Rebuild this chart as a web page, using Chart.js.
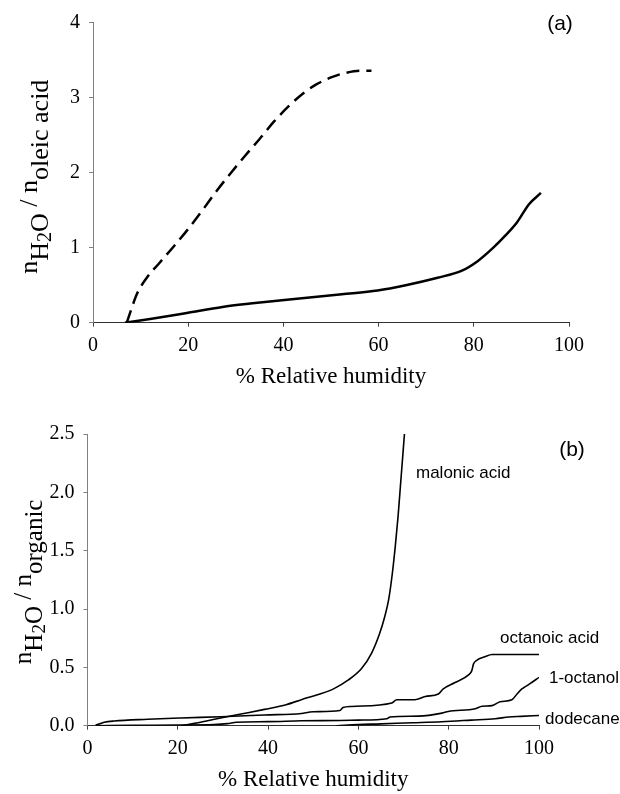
<!DOCTYPE html>
<html>
<head>
<meta charset="utf-8">
<script src="https://cdn.jsdelivr.net/npm/chart.js@4.4.1/dist/chart.umd.min.js"></script>
<style>
  html, body { margin: 0; padding: 0; background: #ffffff; }
  body { width: 620px; height: 794px; position: relative; overflow: hidden; }
  #wrapA { position: absolute; left: 0; top: 0; width: 620px; height: 400px; }
  #wrapB { position: absolute; left: 0; top: 400px; width: 620px; height: 394px; }
</style>
</head>
<body>
<div id="wrapA"><canvas id="chartA" width="620" height="400"></canvas></div>
<div id="wrapB"><canvas id="chartB" width="620" height="394"></canvas></div>
<script>
// ---------- Data: panel (a) ----------
const aTicksX = [0, 20, 40, 60, 80, 100];
const aTicksY = [0, 1, 2, 3, 4];
const dashedRH  = [7.1, 8, 9.2, 11.3, 14, 17, 20, 23, 26, 29, 32, 35, 38, 41, 44, 47, 50, 53, 56, 58.5];
const dashedVal = [0, 0.17, 0.38, 0.6, 0.8, 1.02, 1.25, 1.5, 1.76, 2.0, 2.23, 2.45, 2.68, 2.88, 3.05, 3.18, 3.27, 3.33, 3.36, 3.36];
const solidRH   = [6.7, 12, 19.7, 27.2, 33, 39.7, 46, 52.3, 59.8, 65.7, 72.4, 77.4, 80.8, 84.1, 86.6, 89.1, 91.6, 94.1];
const solidVal  = [0, 0.05, 0.13, 0.21, 0.255, 0.30, 0.34, 0.38, 0.43, 0.5, 0.6, 0.69, 0.82, 1.0, 1.16, 1.34, 1.58, 1.73];

// ---------- Data: panel (b) ----------
const bTicksX = [0, 20, 40, 60, 80, 100];
const bTicksY = [0, 0.5, 1.0, 1.5, 2.0, 2.5];
const malonicRH  = [20.7, 23.7, 28.1, 34, 39.2, 44, 47.5, 51.8, 54.7, 57.7, 60.7, 62.9, 64.7, 65.8, 66.7, 67.5, 68.2, 68.8, 69.3, 69.8, 70.2];
const malonicVal = [0, 0.02, 0.055, 0.10, 0.14, 0.18, 0.225, 0.275, 0.32, 0.39, 0.49, 0.62, 0.79, 0.93, 1.08, 1.3, 1.55, 1.8, 2.05, 2.3, 2.5];
const octanoicRH  = [1.8, 3, 3.7, 5.9, 13.3, 20.7, 29.6, 39.2, 47.4, 49, 50, 55.9, 56.6, 58.5, 67.4, 68.5, 72.5, 74.8, 77.7, 78.8, 81.4, 84.4, 85.1, 85.5, 86.2, 88, 89.6, 100];
const octanoicVal = [0.005, 0.02, 0.029, 0.04, 0.055, 0.066, 0.077, 0.092, 0.105, 0.115, 0.12, 0.13, 0.155, 0.165, 0.195, 0.222, 0.222, 0.25, 0.272, 0.315, 0.37, 0.435, 0.47, 0.53, 0.56, 0.59, 0.61, 0.61];
const octanolRH  = [2, 10, 20, 28, 31, 33, 40, 47.4, 56, 60, 66.3, 67, 73.3, 78.5, 79.9, 85.9, 87.4, 89.6, 91.4, 94, 95.1, 96.2, 96.6, 98, 100];
const octanolVal = [0, 0.003, 0.006, 0.01, 0.018, 0.03, 0.035, 0.042, 0.045, 0.048, 0.06, 0.075, 0.082, 0.108, 0.122, 0.146, 0.166, 0.172, 0.205, 0.222, 0.27, 0.315, 0.325, 0.36, 0.414];
const dodecaneRH  = [55, 57.7, 65, 72, 78.5, 85, 90.3, 93.3, 96, 100];
const dodecaneVal = [0, 0.006, 0.016, 0.025, 0.034, 0.048, 0.06, 0.074, 0.08, 0.088];

const curveLabels = ['malonic acid', 'octanoic acid', '1-octanol', 'dodecane'];

// ---------- Helpers ----------
const SERIF = '"Liberation Serif", "Times New Roman", serif';
const SANS = '"Liberation Sans", Arial, sans-serif';
function pts(xs, ys) { return xs.map((x, i) => ({ x: x, y: ys[i] })); }

function makeScales(ticksX, ticksY, yDecimals, yAxisW, xAxisH, yMax) {
  return {
    x: {
      type: 'linear', min: 0, max: 100,
      afterBuildTicks: (s) => { s.ticks = ticksX.map(v => ({ value: v })); },
      afterFit: (s) => { s.height = xAxisH; },
      grid: { drawOnChartArea: false, drawTicks: true, tickLength: 4, color: '#404040' },
      border: { display: true, color: '#303030', width: 1 },
      ticks: { color: '#000', padding: 7, font: { family: SERIF, size: 20 }, maxRotation: 0,
               callback: (v) => String(v) }
    },
    y: {
      type: 'linear', min: 0, max: yMax,
      afterBuildTicks: (s) => { s.ticks = ticksY.map(v => ({ value: v })); },
      afterFit: (s) => { s.width = yAxisW; },
      grid: { drawOnChartArea: false, drawTicks: true, tickLength: 4, color: '#808080' },
      border: { display: true, color: '#808080', width: 1 },
      ticks: { color: '#000', padding: 9, font: { family: SERIF, size: 20 },
               callback: (v) => yDecimals ? Number(v).toFixed(yDecimals) : String(v) }
    }
  };
}

function drawYTitle(ctx, baseX, centerY, parts) {
  ctx.save();
  let total = 0;
  parts.forEach(p => { ctx.font = p.font; p.w = ctx.measureText(p.text).width; total += p.w; });
  ctx.translate(baseX, centerY);
  ctx.rotate(-Math.PI / 2);
  ctx.fillStyle = '#000';
  ctx.textBaseline = 'alphabetic';
  ctx.textAlign = 'left';
  let x = -total / 2;
  parts.forEach(p => { ctx.font = p.font; ctx.fillText(p.text, x, p.dy); x += p.w; });
  ctx.restore();
}

function textPlugin(drawFn) {
  return { id: 'txt' + Math.random().toString(36).slice(2), afterDraw: (chart) => drawFn(chart, chart.ctx) };
}

Chart.defaults.animation = false;
Chart.defaults.responsive = false;
Chart.defaults.devicePixelRatio = 1;

// ---------- Chart (a) ----------
new Chart(document.getElementById('chartA'), {
  type: 'scatter',
  data: {
    datasets: [
      { data: pts(dashedRH, dashedVal), showLine: true, borderColor: '#000', borderWidth: 2.5,
        borderDash: [13, 7], pointRadius: 0, cubicInterpolationMode: 'monotone', fill: false },
      { data: pts(solidRH, solidVal), showLine: true, borderColor: '#000', borderWidth: 2.5,
        pointRadius: 0, cubicInterpolationMode: 'monotone', fill: false }
    ]
  },
  options: {
    layout: { padding: { left: 0, right: 51, top: 22.7, bottom: 0 } },
    plugins: { legend: { display: false }, tooltip: { enabled: false } },
    scales: makeScales(aTicksX, aTicksY, 0, 93, 77.3, 4)
  },
  plugins: [textPlugin((chart, ctx) => {
    const a = chart.chartArea;
    ctx.save();
    ctx.fillStyle = '#000';
    ctx.font = '23px ' + SERIF;
    ctx.textAlign = 'center'; ctx.textBaseline = 'middle';
    ctx.fillText('% Relative humidity', (a.left + a.right) / 2, 377);
    ctx.font = '21px ' + SANS;
    ctx.fillText('(a)', 560, 24);
    ctx.restore();
    const big = '26px ' + SERIF, sub2 = '20px ' + SERIF;
    drawYTitle(ctx, 37, (a.top + a.bottom) / 2 + 4, [
      { text: 'n', font: big, dy: 0 },
      { text: 'H', font: big, dy: 11 },
      { text: '2', font: sub2, dy: 14 },
      { text: 'O', font: big, dy: 11 },
      { text: ' / ', font: big, dy: 0 },
      { text: 'n', font: big, dy: 0 },
      { text: 'oleic acid', font: big, dy: 11 }
    ]);
  })]
});

// ---------- Chart (b) ----------
const lineB = (xs, ys) => ({ data: pts(xs, ys), showLine: true, borderColor: '#000', borderWidth: 1.6,
  pointRadius: 0, cubicInterpolationMode: 'monotone', fill: false });

new Chart(document.getElementById('chartB'), {
  type: 'scatter',
  data: {
    datasets: [
      lineB(malonicRH, malonicVal),
      lineB(octanoicRH, octanoicVal),
      lineB(octanolRH, octanolVal),
      lineB(dodecaneRH, dodecaneVal)
    ]
  },
  options: {
    layout: { padding: { left: 0, right: 81, top: 34, bottom: 0 } },
    plugins: { legend: { display: false }, tooltip: { enabled: false } },
    scales: makeScales(bTicksX, bTicksY, 1, 87.5, 68.3, 2.5)
  },
  plugins: [textPlugin((chart, ctx) => {
    const a = chart.chartArea;
    ctx.save();
    ctx.fillStyle = '#000';
    ctx.font = '23px ' + SERIF;
    ctx.textAlign = 'center'; ctx.textBaseline = 'middle';
    ctx.fillText('% Relative humidity', (a.left + a.right) / 2, 380);
    ctx.font = '21px ' + SANS;
    ctx.fillText('(b)', 572, 50);
    ctx.font = '17px ' + SANS;
    ctx.textAlign = 'left';
    ctx.fillText(curveLabels[0], 416, 73);
    ctx.fillText(curveLabels[1], 500, 238);
    ctx.fillText(curveLabels[2], 549, 278);
    ctx.fillText(curveLabels[3], 545, 319);
    ctx.restore();
    const big = '25px ' + SERIF, sub2 = '19px ' + SERIF;
    drawYTitle(ctx, 31, (a.top + a.bottom) / 2 + 2, [
      { text: 'n', font: big, dy: 0 },
      { text: 'H', font: big, dy: 11 },
      { text: '2', font: sub2, dy: 14 },
      { text: 'O', font: big, dy: 11 },
      { text: ' / ', font: big, dy: 0 },
      { text: 'n', font: big, dy: 0 },
      { text: 'organic', font: big, dy: 11 }
    ]);
  })]
});
</script>
</body>
</html>
